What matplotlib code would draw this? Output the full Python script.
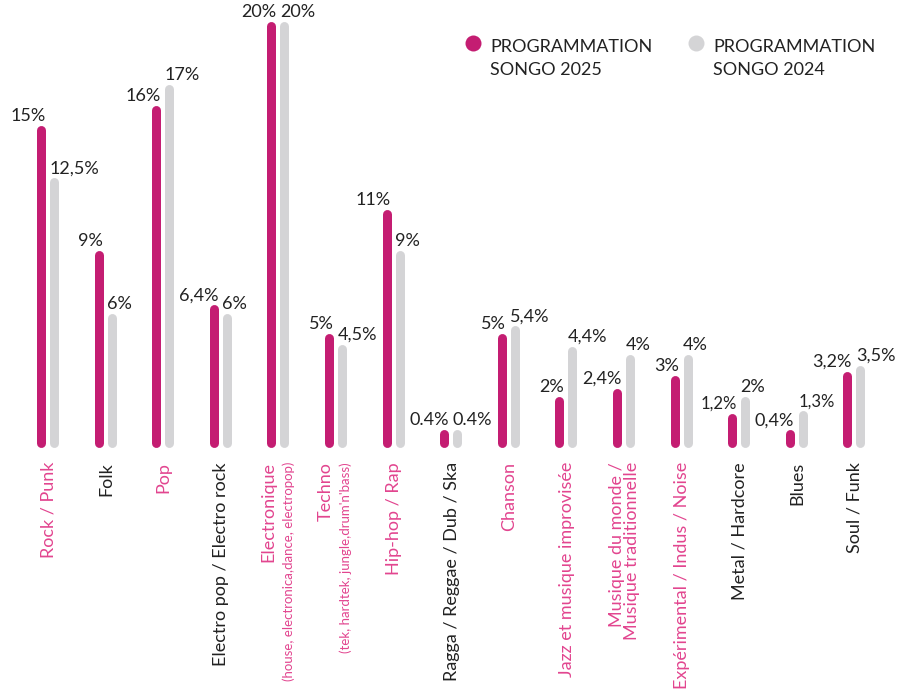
import matplotlib
matplotlib.use("Agg")
import matplotlib.pyplot as plt

# ── Data ──────────────────────────────────────────────────────────────────────
categories = [
    "Rock / Punk", "Folk", "Pop", "Electro pop / Electro rock", "Electronique",
    "Techno", "Hip-hop / Rap", "Ragga / Reggae / Dub / Ska", "Chanson",
    "Jazz et musique improvisée", "Musique du monde /\nMusique traditionnelle",
    "Expérimental / Indus / Noise", "Metal / Hardcore", "Blues", "Soul / Funk",
]
sub_labels = {
    "Electronique": "(house, electronica,dance, electropop)",
    "Techno": "(tek, hardtek, jungle,drum'n'bass)",
}
pink_labels = [True, False, True, False, True, True, True, False, True,
               True, True, True, False, False, False]

prog_2025 = [15, 9, 16, 6.4, 20, 5, 11, 0.4, 5, 2, 2.4, 3, 1.2, 0.4, 3.2]
prog_2024 = [12.5, 6, 17, 6, 20, 4.5, 9, 0.4, 5.4, 4.4, 4, 4, 2, 1.3, 3.5]
text_2025 = ["15%", "9%", "16%", "6,4%", "20%", "5%", "11%", "0.4%", "5%",
             "2%", "2,4%", "3%", "1,2%", "0,4%", "3,2%"]
text_2024 = ["12,5%", "6%", "17%", "6%", "20%", "4,5%", "9%", "0.4%", "5,4%",
             "4,4%", "4%", "4%", "2%", "1,3%", "3,5%"]
small_texts = {"1,2%", "1,3%"}

COLORS = {
    "2025": "#c41d72",
    "2024": "#d4d4d6",
    "pink": "#e2458f",
    "text": "#222222",
}
FONT = "Lato"
PX = 0.72  # points per pixel at dpi 100

plt.rcParams["font.family"] = [FONT, "DejaVu Sans"]

fig = plt.figure(figsize=(8.98, 6.93), dpi=100, facecolor="white")
ax = fig.add_axes([0, 0, 1, 1])
ax.set_xlim(-0.8247, 14.766)
ax.set_ylim(-12.04, 21.27)
ax.axis("off")

off = 6.5 / 57.6
lw = 9 * PX

for i, (v25, v24) in enumerate(zip(prog_2025, prog_2024)):
    x25, x24 = i - off, i + off
    ax.plot([x25, x25], [0, v25], color=COLORS["2025"], lw=lw,
            solid_capstyle="round")
    ax.plot([x24, x24], [0, v24], color=COLORS["2024"], lw=lw,
            solid_capstyle="round")

    t25, t24 = text_2025[i], text_2024[i]
    ax.annotate(t25, (x25, v25), xytext=(4.5 * PX, 9 * PX),
                textcoords="offset points", ha="right", va="baseline",
                fontsize=12 if t25 in small_texts else 13,
                color=COLORS["text"])
    ax.annotate(t24, (x24, v24), xytext=(-4.5 * PX, 9 * PX),
                textcoords="offset points", ha="left", va="baseline",
                fontsize=12 if t24 in small_texts else 13,
                color=COLORS["text"])

    # category labels
    cat = categories[i]
    col = COLORS["pink"] if pink_labels[i] else COLORS["text"]
    if cat in sub_labels:
        ax.annotate(cat, (i, 0), xytext=(-9.5 * PX, -19.5 * PX),
                    textcoords="offset points", rotation=90, ha="center",
                    va="top", fontsize=13, color=col)
        ax.annotate(sub_labels[cat], (i, 0), xytext=(10.5 * PX, -19.5 * PX),
                    textcoords="offset points", rotation=90, ha="center",
                    va="top", fontsize=9.5, color=col)
    else:
        ax.annotate(cat, (i, 0), xytext=(1 * PX, -19.5 * PX),
                    textcoords="offset points", rotation=90, ha="center",
                    va="top", fontsize=13, color=col, multialignment="right",
                    linespacing=0.95, annotation_clip=False)

# ── Legend ────────────────────────────────────────────────────────────────────
legend = [("PROGRAMMATION\nSONGO 2025", COLORS["2025"], 473),
          ("PROGRAMMATION\nSONGO 2024", COLORS["2024"], 696)]
for label, color, cx in legend:
    ax.scatter([cx / 898], [1 - 43 / 693], s=(16 * PX) ** 2, color=color,
               transform=ax.transAxes, clip_on=False, linewidths=0)
    line1, line2 = label.split("\n")
    ax.text((cx + 17) / 898, 1 - 52 / 693, line1, transform=ax.transAxes,
            ha="left", va="baseline", fontsize=13, color=COLORS["text"])
    ax.text((cx + 17) / 898, 1 - 75 / 693, line2, transform=ax.transAxes,
            ha="left", va="baseline", fontsize=13, color=COLORS["text"])

fig.savefig("out.png", dpi=100, facecolor="white")
